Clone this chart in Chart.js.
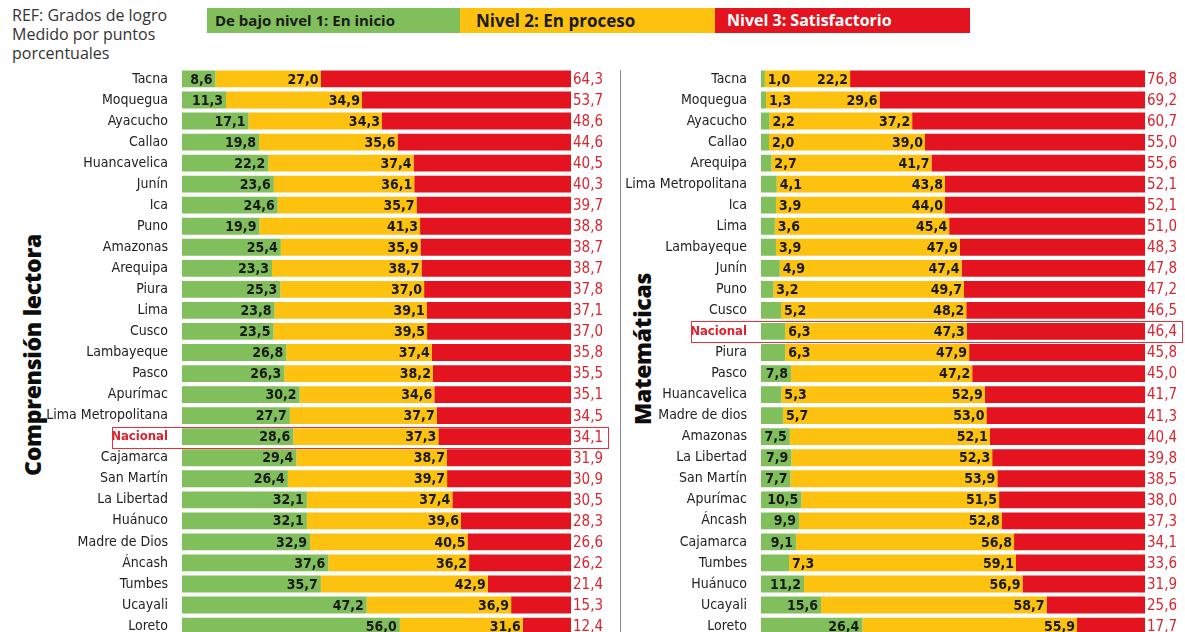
<!DOCTYPE html>
<html>
<head>
<meta charset="utf-8">
<script src="https://cdn.jsdelivr.net/npm/chart.js@4.4.1/dist/chart.umd.min.js"></script>
<style>
  html, body { margin: 0; padding: 0; background: #fff; }
  body { width: 1185px; height: 632px; position: relative; overflow: hidden; font-family: 'Open Sans', sans-serif; }
  .ref { position: absolute; left: 12px; top: 6px; font-size: 16px; line-height: 19px; color: #333; }
  .leg { position: absolute; top: 8px; height: 25px; line-height: 25px; font-weight: bold; white-space: nowrap; }
  .leg.g { left: 207px; width: 253px; background: #80bf5b; color: #1b1b1b; font-size: 15px; padding-left: 8px; box-sizing: border-box; }
  .leg.y { left: 460px; width: 255px; background: #fdc20f; color: #1b1b1b; font-size: 17px; padding-left: 16px; box-sizing: border-box; }
  .leg.r { left: 715px; width: 255px; background: #e3141f; color: #fff; font-size: 16px; padding-left: 12px; box-sizing: border-box; }
  .sep { position: absolute; left: 620px; top: 70px; width: 1px; height: 570px; background: #8a8a8a; }
  .vt { position: absolute; font-family: 'Open Sans', sans-serif; font-weight: 800; font-size: 23px; color: #0d0d0d;
        transform: rotate(-90deg); transform-origin: center center; white-space: nowrap; line-height: 26px; letter-spacing: -0.3px; }
  canvas { position: absolute; }
</style>
</head>
<body>
<div class="ref">REF: Grados de logro<br>Medido por puntos<br>porcentuales</div>
<div class="leg g">De bajo nivel 1: En inicio</div>
<div class="leg y">Nivel 2: En proceso</div>
<div class="leg r">Nivel 3: Satisfactorio</div>
<div class="sep"></div>
<div class="vt" id="vt-left">Comprensión lectora</div>
<div class="vt" id="vt-right">Matemáticas</div>
<div id="wrap-left" style="position:absolute;left:0;top:54px;width:620px;height:597px;"><canvas id="chart-left"></canvas></div>
<div id="wrap-right" style="position:absolute;left:620px;top:54px;width:565px;height:597px;"><canvas id="chart-right"></canvas></div>

<script>
// Comprensión lectora
const lectoraRegions = ['Tacna', 'Moquegua', 'Ayacucho', 'Callao', 'Huancavelica', 'Junín', 'Ica', 'Puno',
    'Amazonas', 'Arequipa', 'Piura', 'Lima', 'Cusco', 'Lambayeque', 'Pasco', 'Apurímac', 'Lima Metropolitana',
    'Nacional', 'Cajamarca', 'San Martín', 'La Libertad', 'Huánuco', 'Madre de Dios', 'Áncash', 'Tumbes',
    'Ucayali', 'Loreto'];
const lectoraNivel1 = [8.6, 11.3, 17.1, 19.8, 22.2, 23.6, 24.6, 19.9, 25.4, 23.3, 25.3, 23.8, 23.5, 26.8,
    26.3, 30.2, 27.7, 28.6, 29.4, 26.4, 32.1, 32.1, 32.9, 37.6, 35.7, 47.2, 56.0];
const lectoraNivel2 = [27.0, 34.9, 34.3, 35.6, 37.4, 36.1, 35.7, 41.3, 35.9, 38.7, 37.0, 39.1, 39.5, 37.4,
    38.2, 34.6, 37.7, 37.3, 38.7, 39.7, 37.4, 39.6, 40.5, 36.2, 42.9, 36.9, 31.6];
const lectoraNivel3 = [64.3, 53.7, 48.6, 44.6, 40.5, 40.3, 39.7, 38.8, 38.7, 38.7, 37.8, 37.1, 37.0, 35.8,
    35.5, 35.1, 34.5, 34.1, 31.9, 30.9, 30.5, 28.3, 26.6, 26.2, 21.4, 15.3, 12.4];

// Matemáticas
const mateRegions = ['Tacna', 'Moquegua', 'Ayacucho', 'Callao', 'Arequipa', 'Lima Metropolitana', 'Ica',
    'Lima', 'Lambayeque', 'Junín', 'Puno', 'Cusco', 'Nacional', 'Piura', 'Pasco', 'Huancavelica',
    'Madre de dios', 'Amazonas', 'La Libertad', 'San Martín', 'Apurímac', 'Áncash', 'Cajamarca', 'Tumbes',
    'Huánuco', 'Ucayali', 'Loreto'];
const mateNivel1 = [1.0, 1.3, 2.2, 2.0, 2.7, 4.1, 3.9, 3.6, 3.9, 4.9, 3.2, 5.2, 6.3, 6.3, 7.8, 5.3, 5.7,
    7.5, 7.9, 7.7, 10.5, 9.9, 9.1, 7.3, 11.2, 15.6, 26.4];
const mateNivel2 = [22.2, 29.6, 37.2, 39.0, 41.7, 43.8, 44.0, 45.4, 47.9, 47.4, 49.7, 48.2, 47.3, 47.9,
    47.2, 52.9, 53.0, 52.1, 52.3, 53.9, 51.5, 52.8, 56.8, 59.1, 56.9, 58.7, 55.9];
const mateNivel3 = [76.8, 69.2, 60.7, 55.0, 55.6, 52.1, 52.1, 51.0, 48.3, 47.8, 47.2, 46.5, 46.4, 45.8,
    45.0, 41.7, 41.3, 40.4, 39.8, 38.5, 38.0, 37.3, 34.1, 33.6, 31.9, 25.6, 17.7];

const GREEN = '#80bf5b';
const YELLOW = '#fdc20f';
const RED = '#e3141f';
const LABEL_RED = '#d8252f';
const FONT = "'Liberation Sans Narrow', 'DejaVu Sans Condensed', 'Roboto', sans-serif";

// place the rotated titles
function placeVertical(id, cx, cy) {
    const el = document.getElementById(id);
    el.style.left = (cx - el.offsetWidth / 2) + 'px';
    el.style.top = (cy - el.offsetHeight / 2) + 'px';
}
placeVertical('vt-left', 32, 355);
placeVertical('vt-right', 642, 349);

const fmt = v => v.toFixed(1).replace('.', ',');

// every row is scaled so the three levels fill the full bar
function shares(a, b, c) {
    return a.map((v, i) => {
        const total = a[i] + b[i] + c[i];
        return [a[i] / total * 100, b[i] / total * 100, c[i] / total * 100];
    });
}

// draw the numbers on the bars and the box round "Nacional"
const valueLabels = {
    id: 'valueLabels',
    afterDatasetsDraw(chart) {
        const ctx = chart.ctx;
        const raw = chart.options.plugins.valueLabels.raw;
        const m1 = chart.getDatasetMeta(0).data;
        const m2 = chart.getDatasetMeta(1).data;
        const m3 = chart.getDatasetMeta(2).data;
        ctx.save();
        ctx.textBaseline = 'middle';
        m1.forEach((bar, i) => {
            const y = bar.y + 1;
            ctx.font = 'bold 14px ' + FONT;
            ctx.fillStyle = '#1a1a1a';
            const t1 = fmt(raw[0][i]);
            const w1 = ctx.measureText(t1).width;
            const gw = bar.x - bar.base;
            if (gw >= w1 + 6) {
                ctx.textAlign = 'right';
                ctx.fillText(t1, bar.x - 3, y);
            } else {
                ctx.textAlign = 'left';
                ctx.fillText(t1, bar.x + 3, y);
            }
            ctx.textAlign = 'right';
            ctx.fillText(fmt(raw[1][i]), m2[i].x - 2, y);
            ctx.font = '15px ' + FONT;
            ctx.fillStyle = LABEL_RED;
            ctx.textAlign = 'left';
            ctx.fillText(fmt(raw[2][i]), m3[i].x + 2, y);
        });
        // highlight box
        const idx = chart.data.labels.indexOf('Nacional');
        if (idx >= 0) {
            const y = chart.scales.y.getPixelForValue(idx);
            ctx.font = 'bold 13px ' + FONT;
            const lw = ctx.measureText('Nacional').width;
            const x0 = chart.chartArea.left - 6 - lw - 7;
            ctx.strokeStyle = '#e0323c';
            ctx.lineWidth = 1;
            ctx.strokeRect(Math.round(x0) + 0.5, Math.round(y - 10) + 0.5, Math.round(chart.chartArea.right + 37 - x0), 21);
        }
        ctx.restore();
    }
};

function buildChart(canvasId, regions, n1, n2, n3, leftEdge, rightPad) {
    const rows = shares(n1, n2, n3);
    const common = { barPercentage: 0.8, categoryPercentage: 1.0, borderWidth: 0 };
    return new Chart(document.getElementById(canvasId), {
        type: 'bar',
        data: {
            labels: regions,
            datasets: [
                Object.assign({ label: 'De bajo nivel 1: En inicio', data: rows.map(r => r[0]), backgroundColor: GREEN }, common),
                Object.assign({ label: 'Nivel 2: En proceso', data: rows.map(r => r[1]), backgroundColor: YELLOW }, common),
                Object.assign({ label: 'Nivel 3: Satisfactorio', data: rows.map(r => r[2]), backgroundColor: RED }, common)
            ]
        },
        options: {
            indexAxis: 'y',
            responsive: true,
            maintainAspectRatio: false,
            animation: false,
            layout: { padding: { left: 0, right: rightPad, top: 0, bottom: 0 } },
            plugins: {
                legend: { display: false },
                tooltip: { enabled: false },
                valueLabels: { raw: [n1, n2, n3] }
            },
            scales: {
                x: {
                    stacked: true,
                    min: 0,
                    max: 100,
                    display: false
                },
                y: {
                    stacked: true,
                    grid: { display: false },
                    border: { display: false },
                    afterFit: scale => { scale.width = leftEdge; },
                    ticks: {
                        padding: 6,
                        autoSkip: false,
                        color: c => c.tick && c.tick.label === 'Nacional' ? '#e0202c' : '#222',
                        font: c => c.tick && c.tick.label === 'Nacional'
                            ? { family: FONT, size: 13, weight: 'bold' }
                            : { family: FONT, size: 14 }
                    }
                }
            }
        },
        plugins: [valueLabels]
    });
}

buildChart('chart-left', lectoraRegions, lectoraNivel1, lectoraNivel2, lectoraNivel3, 182, 49);
buildChart('chart-right', mateRegions, mateNivel1, mateNivel2, mateNivel3, 141, 40);
</script>
</body>
</html>
